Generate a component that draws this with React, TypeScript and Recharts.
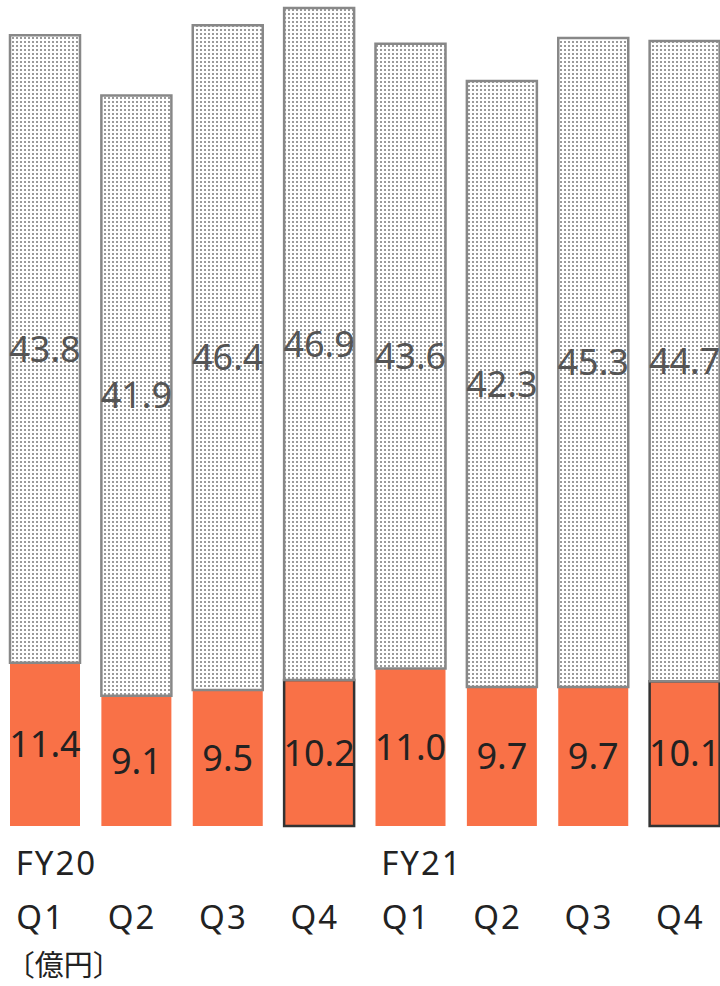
import React from 'react';
import { BarChart, Bar, XAxis, YAxis, LabelList, Cell } from 'recharts';

// 四半期ラベル
const quarters = ['Q1', 'Q2', 'Q3', 'Q4', 'Q1', 'Q2', 'Q3', 'Q4'];
const fiscalYears = ['FY20', '', '', '', 'FY21', '', '', ''];
// 下段（オレンジ）
const lowerValues = [11.4, 9.1, 9.5, 10.2, 11.0, 9.7, 9.7, 10.1];
// 上段（ドット）
const upperValues = [43.8, 41.9, 46.4, 46.9, 43.6, 42.3, 45.3, 44.7];
const unitLabel = '〔億円〕';

const data = quarters.map((q, i) => ({
    key: `${fiscalYears[i] || ''}-${q}-${i}`,
    q,
    fy: fiscalYears[i],
    lower: lowerValues[i],
    upper: upperValues[i],
}));

const ORANGE = '#F97147';
const FONT = '"Noto Sans", sans-serif';

const QuarterTick = (props: any) => {
    const { x, y, index } = props;
    const row = data[index];
    return (
        <g>
            {row.fy && (
                <text x={x - 29} y={y + 49} textAnchor="start" fontSize={33} letterSpacing={2} fill="#222" fontFamily={FONT}>
                    {row.fy}
                </text>
            )}
            <text x={x - 4} y={y + 103} textAnchor="middle" fontSize={33} letterSpacing={2} fill="#222" fontFamily={FONT}>
                {row.q}
            </text>
            {index === 0 && (
                <text x={x - 39} y={y + 150} textAnchor="start" fontSize={29} fill="#222"
                    fontFamily='"Noto Sans CJK JP", sans-serif'>
                    {unitLabel}
                </text>
            )}
        </g>
    );
};

const fmt = (v: any) => Number(v).toFixed(1);

export default function App() {
    return (
        <div style={{ position: 'absolute', left: 0, top: 0, width: 720, height: 986, overflow: 'hidden', background: '#fff' }}>
            <div style={{ position: 'absolute', left: -1, top: 0 }}>
                <BarChart
                    width={731}
                    height={986}
                    data={data}
                    margin={{ top: 8, right: 0, bottom: 0, left: 0 }}
                    barSize={70}
                >
                    <defs>
                        <pattern id="dots" width="4" height="4" patternUnits="userSpaceOnUse">
                            <rect width="4" height="4" fill="#ffffff" />
                            <rect x="1" y="1" width="2" height="2" fill="#9a9a9a" />
                        </pattern>
                    </defs>
                    <XAxis
                        dataKey="key"
                        axisLine={false}
                        tickLine={false}
                        tickSize={0}
                        tickMargin={0}
                        height={160}
                        interval={0}
                        tick={<QuarterTick />}
                    />
                    <YAxis hide domain={[0, 57.1]} />
                    <Bar dataKey="lower" stackId="a" fill={ORANGE} isAnimationActive={false}>
                        {data.map((d) => (
                            <Cell
                                key={d.key}
                                fill={ORANGE}
                                stroke={d.q === 'Q4' ? '#333' : 'none'}
                                strokeWidth={d.q === 'Q4' ? 2.5 : 0}
                            />
                        ))}
                        <LabelList dataKey="lower" position="center" formatter={fmt}
                            style={{ fontSize: 36, fill: '#222', fontFamily: FONT }} />
                    </Bar>
                    <Bar dataKey="upper" stackId="a" fill="url(#dots)" stroke="#888" strokeWidth={2.5} isAnimationActive={false}>
                        <LabelList dataKey="upper" position="center" formatter={fmt}
                            style={{ fontSize: 36, fill: '#555', fontFamily: FONT }} />
                    </Bar>
                </BarChart>
            </div>
        </div>
    );
}
